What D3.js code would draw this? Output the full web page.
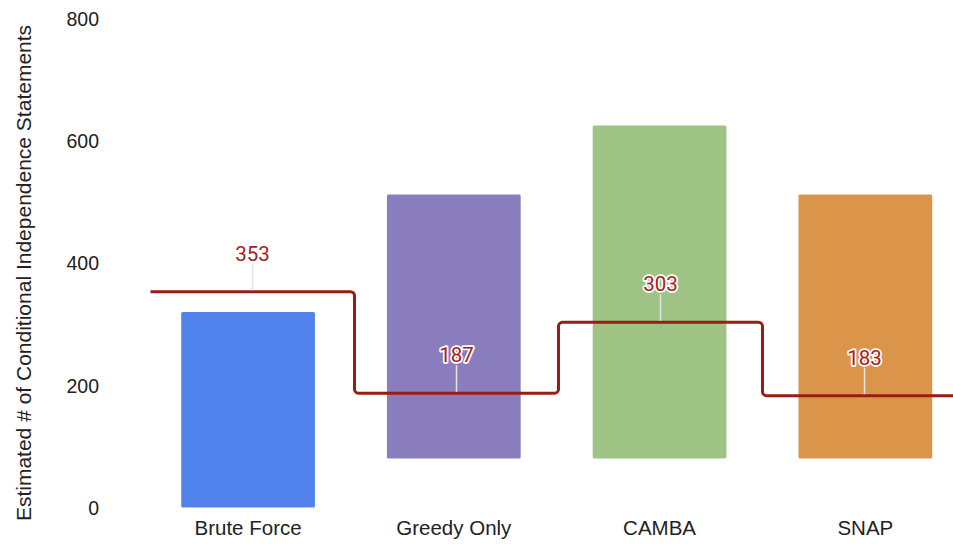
<!DOCTYPE html>
<html>
<head>
<meta charset="utf-8">
<script src="https://cdn.jsdelivr.net/npm/d3@7/dist/d3.min.js"></script>
<style>
  html, body { margin: 0; padding: 0; background: #fff; }
  svg { display: block; }
</style>
</head>
<body>
<svg id="chart" width="953" height="544"></svg>
<script>
// Methods compared
const categories = ["Brute Force", "Greedy Only", "CAMBA", "SNAP"];
// Floating bar ranges (low / high)
const barLow  = [0, 80, 80, 80];
const barHigh = [320, 512, 625, 512];
const barColors = ["#5283ec", "#8a7dbd", "#9ec385", "#da954a"];
// Stepped series with its data labels
const stepValues = [353, 187, 303, 183];
// Axis
const yTicks = [0, 200, 400, 600, 800];
const yTitle = "Estimated # of Conditional Independence Statements";

const W = 953, H = 544;
const svg = d3.select("#chart");
const sans = "'Liberation Sans', Arial, Helvetica, sans-serif";

const y = d3.scaleLinear().domain([0, 800]).range([507.5, 18.5]);

const xBar = d3.scaleBand()
  .domain(categories)
  .range([145.2, 968.2])
  .paddingInner(0.35)
  .paddingOuter(0.175);

const xLine = d3.scaleBand()
  .domain(categories)
  .range([150.5, 966.5])
  .padding(0);

const lineColor = "#9b1c14";
const labelColor = "#a3211a";

// Y axis labels
const yAxis = d3.axisLeft(y).tickValues(yTicks).tickSize(0).tickPadding(0);
const gy = svg.append("g").attr("transform", "translate(99,0)").call(yAxis);
gy.select(".domain").remove();
gy.selectAll("text")
  .attr("dy", "0.35em")
  .attr("fill", "#222")
  .style("font-family", sans)
  .style("font-size", "19.5px");

// Y axis title
svg.append("text")
  .attr("transform", "translate(24,273) rotate(-90)")
  .attr("text-anchor", "middle")
  .attr("dy", "0.35em")
  .attr("fill", "#222")
  .style("font-family", sans)
  .style("font-size", "21px")
  .text(yTitle);

// Floating bars
svg.append("g").selectAll("rect")
  .data(categories)
  .join("rect")
  .attr("x", d => xBar(d))
  .attr("width", xBar.bandwidth())
  .attr("y", (d, i) => y(barHigh[i]))
  .attr("height", (d, i) => y(barLow[i]) - y(barHigh[i]))
  .attr("rx", 1.5)
  .attr("fill", (d, i) => barColors[i]);

// Category labels
const xAxis = d3.axisBottom(xBar).tickSize(0).tickPadding(0);
const gx = svg.append("g").attr("transform", "translate(0,528)").call(xAxis);
gx.select(".domain").remove();
gx.selectAll("text")
  .attr("y", 0)
  .attr("dy", "0.35em")
  .attr("fill", "#222")
  .style("font-family", sans)
  .style("font-size", "20.5px");

// Stepped line with rounded corners
const pts = [];
categories.forEach((c, i) => {
  const yy = y(stepValues[i]);
  pts.push([xLine(c), yy]);
  pts.push([xLine(c) + xLine.bandwidth(), yy]);
});
const p = d3.path();
p.moveTo(pts[0][0], pts[0][1]);
for (let i = 1; i < pts.length - 1; i++) {
  p.arcTo(pts[i][0], pts[i][1], pts[i + 1][0], pts[i + 1][1], 4);
}
p.lineTo(pts[pts.length - 1][0], pts[pts.length - 1][1]);
svg.append("path")
  .attr("d", p.toString())
  .attr("fill", "none")
  .attr("stroke", lineColor)
  .attr("stroke-width", 3);

// Data labels with leader lines
const lab = svg.append("g");
categories.forEach((c, i) => {
  const cx = xLine(c) + xLine.bandwidth() / 2;
  const yy = y(stepValues[i]);
  lab.append("line")
    .attr("x1", cx).attr("x2", cx)
    .attr("y1", yy - 28).attr("y2", yy - 1.5)
    .attr("stroke", "#e4e4e4")
    .attr("stroke-width", 1.5);
  lab.append("text")
    .attr("x", cx)
    .attr("y", yy - 31)
    .attr("text-anchor", "middle")
    .attr("fill", labelColor)
    .attr("stroke", "#fff")
    .attr("stroke-width", 3.5)
    .attr("stroke-linejoin", "round")
    .attr("paint-order", "stroke")
    .style("font-family", "Roboto, 'Noto Sans', sans-serif")
    .style("font-size", "20.5px")
    .text(stepValues[i]);
});
</script>
</body>
</html>
